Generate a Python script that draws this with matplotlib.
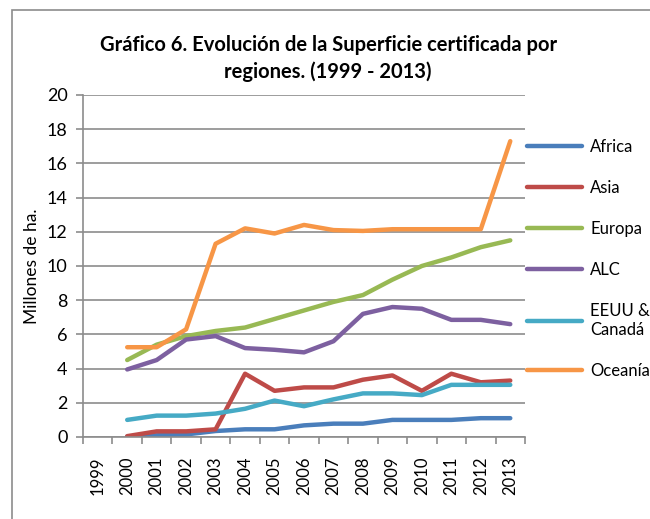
import matplotlib.pyplot as plt
from matplotlib.patches import Rectangle

plt.rcParams['font.family'] = ['Lato', 'DejaVu Sans']

categories = [str(y) for y in range(1999, 2014)]
years = categories[1:]  # no data for 1999

africa = [0.02, 0.1, 0.15, 0.35, 0.45, 0.45, 0.68, 0.78, 0.78, 1.0, 1.0, 1.0, 1.1, 1.1]
asia = [0.05, 0.33, 0.33, 0.45, 3.7, 2.7, 2.9, 2.9, 3.35, 3.6, 2.7, 3.7, 3.2, 3.3]
europa = [4.5, 5.4, 5.9, 6.2, 6.4, 6.9, 7.4, 7.9, 8.3, 9.2, 10.0, 10.5, 11.1, 11.5]
alc = [3.95, 4.5, 5.7, 5.9, 5.2, 5.1, 4.95, 5.6, 7.2, 7.6, 7.5, 6.85, 6.85, 6.6]
eeuu = [1.0, 1.25, 1.25, 1.37, 1.65, 2.13, 1.8, 2.2, 2.55, 2.55, 2.45, 3.05, 3.05, 3.05]
oceania = [5.25, 5.25, 6.3, 11.3, 12.2, 11.9, 12.4, 12.1, 12.05, 12.15, 12.15, 12.15, 12.15, 17.3]

series = [
    ('Africa', africa, '#4A7EBB'),
    ('Asia', asia, '#BE4B48'),
    ('Europa', europa, '#98B954'),
    ('ALC', alc, '#7D60A0'),
    ('EEUU &\nCanadá', eeuu, '#46AAC5'),
    ('Oceanía', oceania, '#F79646'),
]

fig = plt.figure(figsize=(6.5, 5.19), dpi=100)
ax = fig.add_axes([0.1277, 0.158, 0.68, 0.659])

# outer chart border (left and top visible)
fig.add_artist(Rectangle((12 / 650, -0.1), 1.2, 1 - 10 / 519 + 0.1,
                         transform=fig.transFigure, fill=False,
                         edgecolor='#8c8c8c', linewidth=1.2))

xpos = [categories.index(y) for y in years]
for name, vals, color in series:
    ax.plot(xpos, vals, color=color, linewidth=3.2, label=name,
            solid_capstyle='round', solid_joinstyle='round')

ax.set_xlim(-0.5, len(categories) - 0.5)
ax.set_ylim(0, 20)
ax.set_yticks(range(0, 21, 2))
ax.grid(axis='y', color='#8c8c8c', linewidth=1.2)
ax.set_axisbelow(True)

ax.set_xticks(range(len(categories)))
ax.set_xticklabels(categories, rotation=90, fontsize=12)
ax.tick_params(axis='x', length=0, pad=14)
ax.set_xticks([i - 0.5 for i in range(len(categories) + 1)], minor=True)
ax.tick_params(axis='x', which='minor', length=5, color='#8c8c8c', width=1.2)
ax.tick_params(axis='y', length=5, color='#8c8c8c', width=1.2, labelsize=13, pad=6)

for s in ['top', 'right']:
    ax.spines[s].set_visible(False)
for s in ['left', 'bottom']:
    ax.spines[s].set_color('#8c8c8c')
    ax.spines[s].set_linewidth(1.2)

ax.set_ylabel('Millones de ha.', fontsize=12.5, labelpad=5)

fig.text(0.505, 0.913, 'Gráfico 6. Evolución de la Superficie certificada por',
         ha='center', va='center', fontsize=14.5, fontweight='bold')
fig.text(0.505, 0.861, 'regiones. (1999 - 2013)',
         ha='center', va='center', fontsize=14.5, fontweight='bold')

ax.legend(loc='upper left', bbox_to_anchor=(0.8, 0.745),
          bbox_transform=fig.transFigure, frameon=False, fontsize=12,
          handlelength=3.3, handletextpad=0.5, labelspacing=1.5,
          borderaxespad=0)

fig.savefig('out.png', dpi=100)
